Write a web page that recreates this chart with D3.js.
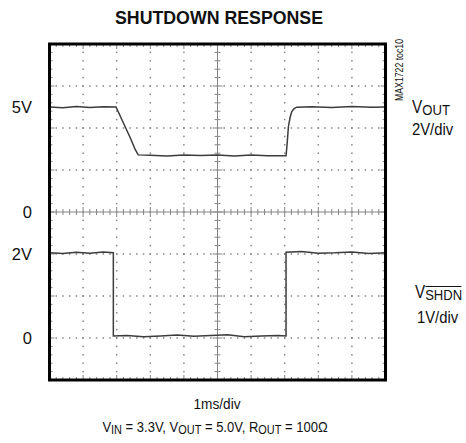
<!DOCTYPE html>
<html>
<head>
<meta charset="utf-8">
<script src="https://cdn.jsdelivr.net/npm/d3@7"></script>
<style>
  body { margin: 0; background: #fff; }
  text { font-family: "Liberation Sans", Arial, sans-serif; fill: #111; }
</style>
</head>
<body>
<svg id="svg" width="466" height="443"></svg>
<script>
// DATA
const voutT = [0, 0.4, 0.8, 1.2, 1.6, 1.98, 2.2, 2.4, 2.55, 2.64, 3.0, 3.5, 4.0, 4.5, 5.0, 5.5, 6.0, 6.5, 7.04, 7.08, 7.11, 7.16, 7.21, 7.28, 7.36, 7.8, 8.4, 9.0, 9.6, 10];
const voutV = [5.0, 4.97, 5.02, 4.98, 5.01, 5.0, 4.24, 3.55, 2.98, 2.72, 2.70, 2.67, 2.72, 2.69, 2.71, 2.67, 2.72, 2.68, 2.68, 3.4, 4.06, 4.5, 4.78, 4.92, 4.99, 5.01, 4.98, 5.02, 4.99, 5.0];
const shdnT = [0, 0.4, 0.8, 1.2, 1.6, 1.9, 1.9, 2.3, 2.8, 3.3, 3.8, 4.3, 4.8, 5.3, 5.8, 6.3, 6.8, 7.04, 7.04, 7.5, 8.0, 8.5, 9.0, 9.5, 10];
const shdnV = [2.03, 2.01, 2.04, 2.02, 2.05, 2.03, 0.05, 0.06, 0.03, 0.05, 0.07, 0.04, 0.06, 0.08, 0.03, 0.05, 0.06, 0.05, 2.04, 2.06, 2.02, 2.03, 2.05, 2.01, 2.03];
const leftLabels = [
  { text: "5V", ch: "out", v: 5 },
  { text: "0", ch: "out", v: 0 },
  { text: "2V", ch: "shdn", v: 2 },
  { text: "0", ch: "shdn", v: 0 }
];

// SCALES
const x = d3.scaleLinear().domain([0, 10]).range([49.5, 385.5]);
const yDiv = d3.scaleLinear().domain([0, 8]).range([380, 44]);
const yOut = d3.scaleLinear().domain([-8, 8]).range([380, 44]);   // 2V/div, 0 at center
const yShdn = d3.scaleLinear().domain([-1, 7]).range([380, 44]);  // 1V/div
const yFor = ch => (ch === "out" ? yOut : yShdn);

const svg = d3.select("#svg");
const gridColor = "#858585";

// title
svg.append("text")
  .attr("x", 219).attr("y", 24)
  .attr("text-anchor", "middle")
  .attr("font-size", 19).attr("font-weight", "bold")
  .attr("textLength", 208).attr("lengthAdjust", "spacingAndGlyphs")
  .text("SHUTDOWN RESPONSE");

// GRID (dotted, one dot per minor division)
const grid = svg.append("g").attr("fill", gridColor);
const xMinor = d3.range(0, 10.001, 0.2);
const yMinor = d3.range(0, 8.001, 0.2);
[1, 2, 3, 5, 6, 7].forEach(d => {
  grid.selectAll(null).data(xMinor).enter().append("rect")
    .attr("x", t => x(t) - 0.75).attr("y", yDiv(d) - 0.75)
    .attr("width", 1.5).attr("height", 1.5);
});
[1, 2, 3, 4, 6, 7, 8, 9].forEach(t => {
  grid.selectAll(null).data(yMinor).enter().append("rect")
    .attr("x", x(t) - 0.75).attr("y", d => yDiv(d) - 0.75)
    .attr("width", 1.5).attr("height", 1.5);
});

// center axes with ticks
const isMajor = v => Math.abs(v - Math.round(v)) < 0.01;
const axes = svg.append("g").attr("stroke", gridColor).attr("stroke-width", 1);
axes.append("line").attr("x1", x(0)).attr("x2", x(10)).attr("y1", yDiv(4)).attr("y2", yDiv(4));
axes.append("line").attr("x1", x(5)).attr("x2", x(5)).attr("y1", yDiv(0)).attr("y2", yDiv(8));
axes.selectAll(null).data(xMinor).enter().append("line")
  .attr("x1", t => x(t)).attr("x2", t => x(t))
  .attr("y1", t => yDiv(4) - (isMajor(t) ? 5 : 3))
  .attr("y2", t => yDiv(4) + (isMajor(t) ? 5 : 3));
axes.selectAll(null).data(yMinor).enter().append("line")
  .attr("y1", d => yDiv(d)).attr("y2", d => yDiv(d))
  .attr("x1", d => x(5) - (isMajor(d) ? 5 : 3))
  .attr("x2", d => x(5) + (isMajor(d) ? 5 : 3));

// border ticks (inward)
const bt = svg.append("g").attr("stroke", gridColor).attr("stroke-width", 1);
xMinor.forEach(t => {
  const len = isMajor(t) ? 5 : 3;
  bt.append("line").attr("x1", x(t)).attr("x2", x(t)).attr("y1", yDiv(8)).attr("y2", yDiv(8) + len);
  bt.append("line").attr("x1", x(t)).attr("x2", x(t)).attr("y1", yDiv(0)).attr("y2", yDiv(0) - len);
});
yMinor.forEach(d => {
  const len = isMajor(d) ? 5 : 3;
  bt.append("line").attr("y1", yDiv(d)).attr("y2", yDiv(d)).attr("x1", x(0)).attr("x2", x(0) + len);
  bt.append("line").attr("y1", yDiv(d)).attr("y2", yDiv(d)).attr("x1", x(10)).attr("x2", x(10) - len);
});

// TRACES
const lineOut = d3.line().x(i => x(voutT[i])).y(i => yOut(voutV[i]));
const lineShdn = d3.line().x(i => x(shdnT[i])).y(i => yShdn(shdnV[i]));
svg.append("path")
  .attr("d", lineOut(d3.range(voutT.length)))
  .attr("fill", "none").attr("stroke", "#3c3c3c").attr("stroke-width", 1.5);
svg.append("path")
  .attr("d", lineShdn(d3.range(shdnT.length)))
  .attr("fill", "none").attr("stroke", "#3c3c3c").attr("stroke-width", 1.5);

// frame
svg.append("rect")
  .attr("x", x(0)).attr("y", yDiv(8))
  .attr("width", x(10) - x(0)).attr("height", yDiv(0) - yDiv(8))
  .attr("fill", "none").attr("stroke", "#000").attr("stroke-width", 3);

// left labels
svg.append("g").selectAll("text").data(leftLabels).enter().append("text")
  .attr("x", 32)
  .attr("y", d => yFor(d.ch)(d.v))
  .attr("dy", "0.36em")
  .attr("text-anchor", "end")
  .attr("font-size", 16.5)
  .text(d => d.text);

// right labels (narrow type, squeezed horizontally)
const vout = svg.append("text").attr("transform", "translate(412,113) scale(0.875,1)").attr("font-size", 17.5);
vout.append("tspan").text("V");
vout.append("tspan").attr("font-size", 15).attr("dy", 2).text("OUT");
svg.append("text").attr("transform", "translate(412,135) scale(0.87,1)").attr("font-size", 17).text("2V/div");

const vsh = svg.append("text").attr("transform", "translate(415,298) scale(0.87,1)").attr("font-size", 17.5);
vsh.append("tspan").text("V");
vsh.append("tspan").attr("font-size", 15).attr("dy", 2).text("SHDN");
svg.append("line")
  .attr("x1", 425.5).attr("x2", 461.5).attr("y1", 286.5).attr("y2", 286.5)
  .attr("stroke", "#111").attr("stroke-width", 1);
svg.append("text").attr("transform", "translate(417,323) scale(0.87,1)").attr("font-size", 17).text("1V/div");

// rotated plot id
svg.append("text")
  .attr("transform", "translate(403,101) rotate(-90)")
  .attr("font-size", 11)
  .attr("textLength", 62).attr("lengthAdjust", "spacingAndGlyphs")
  .text("MAX1722 toc10");

// bottom captions
svg.append("text").attr("transform", "translate(217,409) scale(0.88,1)").attr("text-anchor", "middle")
  .attr("font-size", 15.5).text("1ms/div");
const cap = svg.append("text").attr("transform", "translate(215,432) scale(0.84,1)")
  .attr("text-anchor", "middle").attr("font-size", 15.5);
cap.append("tspan").text("V");
cap.append("tspan").attr("font-size", 13).attr("dy", 2).text("IN");
cap.append("tspan").attr("dy", -2).text(" = 3.3V, V");
cap.append("tspan").attr("font-size", 13).attr("dy", 2).text("OUT");
cap.append("tspan").attr("dy", -2).text(" = 5.0V, R");
cap.append("tspan").attr("font-size", 13).attr("dy", 2).text("OUT");
cap.append("tspan").attr("dy", -2).text(" = 100\u03A9");
</script>
</body>
</html>
